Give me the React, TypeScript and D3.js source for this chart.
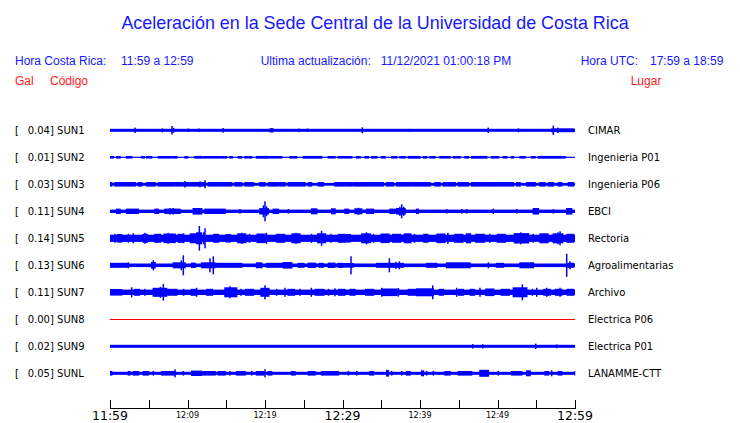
import React from "react";
import * as d3 from "d3";

const W = 740;
const H = 423;

const stations = ["SUN1", "SUN2", "SUN3", "SUN4", "SUN5", "SUN6", "SUN7", "SUN8", "SUN9", "SUNL"];
const peaks = ["0.04", "0.01", "0.03", "0.11", "0.14", "0.13", "0.11", "0.00", "0.02", "0.05"];
const places = ["CIMAR", "Ingenieria P01", "Ingenieria P06", "EBCI", "Rectoria", "Agroalimentarias", "Archivo", "Electrica P06", "Electrica P01", "LANAMME-CTT"];
// base half-amplitude of each trace's continuous noise band
const baseAmp = [1.5, 0.6, 1.4, 1.7, 3.6, 1.8, 2.7, 0, 1.5, 1.5];
const flatColor = ["blue", "blue", "blue", "blue", "blue", "blue", "blue", "red", "blue", "blue"];

// bursts: [minute, amp] spikes or [minuteStart, minuteEnd, amp] segments
const sun1 = [[1.0, 1.3], [3.23, 2.7], [6.75, 2], [8.0, 4.3], [8.2, 2.5], [10.1, 1.8], [11.5, 1.8], [14.6, 2.3], [20.7, 21.0, 2.2], [24.4, 1.8], [25.5, 1.8], [32.56, 3], [38.7, 1.4], [42.2, 1.3], [48.8, 2.7], [52.7, 2], [57.0, 59.8, 1.9], [57.2, 4.7], [57.8, 2.7]];
const sun2 = [[0, 0.43, 1.3], [0.86, 1.29, 1.3], [2.15, 2.8, 1.3], [4.09, 4.43, 1.3], [4.73, 5.38, 1.3], [6.24, 7.96, 1.3], [8.17, 8.6, 1.3], [9.68, 10.0, 1.3], [10.97, 11.83, 1.4], [12.04, 13.98, 1.3], [14.19, 15.05, 1.3], [15.48, 15.78, 1.3], [16.56, 16.99, 1.3], [17.42, 18.28, 1.3], [18.92, 20.43, 1.4], [20.65, 22.15, 1.3], [23.23, 24.09, 1.3], [24.95, 27.31, 1.4], [28.17, 29.03, 1.3], [29.46, 30.33, 1.3], [30.54, 31.19, 1.3], [31.83, 32.26, 1.3], [32.91, 33.34, 1.3], [33.77, 34.41, 1.3], [35.06, 35.49, 1.3], [36.35, 37.0, 1.3], [37.42, 38.07, 1.3], [38.5, 40.0, 1.4], [40.43, 40.86, 1.3], [41.29, 41.94, 1.3], [42.58, 43.87, 1.3], [44.3, 45.16, 1.3], [45.81, 46.24, 1.3], [46.67, 48.6, 1.4], [49.25, 50.11, 1.3], [50.76, 51.19, 1.3], [51.83, 52.05, 1.3], [52.91, 53.55, 1.3], [54.41, 54.84, 1.3], [55.27, 58.28, 1.4], [58.5, 58.7, 1.3]];
const sun3 = [[0, 0.22, 2.3], [0.65, 1.94, 2.3], [2.15, 3.23, 2.3], [3.66, 4.09, 2.3], [4.73, 5.81, 2.3], [6.24, 8.39, 2.3], [8.6, 9.25, 2.3], [9.46, 10.11, 2.3], [10.32, 11.4, 2.3], [11.61, 12.26, 2.3], [12.69, 15.7, 2.3], [16.13, 16.99, 2.3], [17.42, 18.49, 2.3], [19.35, 20.0, 2.3], [20.43, 21.72, 2.3], [21.94, 22.58, 2.3], [23.01, 25.16, 2.3], [25.59, 26.02, 2.3], [26.88, 27.53, 2.3], [29.03, 30.33, 2.3], [9.68, 3.3], [11.61, 3], [12.26, 4], [30.54, 31.19, 2.3], [31.4, 35.27, 2.3], [35.7, 36.56, 2.3], [36.99, 38.93, 2.3], [39.14, 41.29, 2.3], [41.94, 42.58, 2.3], [43.01, 44.52, 2.3], [44.95, 46.24, 2.3], [46.67, 48.39, 2.3], [48.61, 52.05, 2.3], [52.48, 52.91, 2.3], [53.77, 54.2, 2.3], [54.41, 54.84, 2.3], [55.49, 56.13, 2.3], [56.56, 57.21, 2.3], [57.85, 58.28, 2.3], [59.14, 59.79, 2.3]];
const sun4 = [[0.86, 1.29, 2.7], [2.15, 3.66, 2.7], [5.81, 6.24, 2.7], [7.1, 9.03, 2.7], [7.74, 3.3], [8.17, 3.3], [10.75, 11.83, 3.3], [12.26, 14.84, 2.7], [16.77, 2.3], [19.35, 20.43, 3.2], [20.0, 10], [19.8, 6], [20.2, 5], [21.08, 21.72, 2.7], [23.01, 2.3], [26.02, 26.67, 3], [28.6, 29.03, 3], [30.33, 30.76, 2.7], [31.62, 32.48, 3.0], [32.05, 3.5], [33.12, 33.98, 2.7], [36.13, 36.78, 2.7], [37.0, 38.07, 3.3], [37.64, 7], [37.4, 4.5], [37.9, 4.5], [39.57, 39.79, 2.7], [43.44, 2.3], [45.38, 2.3], [46.02, 2.3], [49.46, 2.7], [52.48, 2.3], [54.63, 55.27, 3.3], [57.21, 2.3], [58.93, 59.57, 3.3]];
const sun5 = [[0.65, 4.5], [1.0, 1.5, 4.3], [2.37, 4.5], [3.0, 5], [4.3, 4.8, 4.5], [4.52, 5.5], [5.8, 6.5, 4.5], [7.0, 8.4, 4.8], [7.5, 5.5], [8.8, 9.3, 4.5], [9.5, 5], [10.4, 11.2, 5], [11.2, 11.8, 6], [11.53, 12.3], [12.26, 10], [12.1, 6], [13.4, 14.0, 4.5], [15.0, 15.5, 4.3], [16.5, 17.5, 5], [17.0, 5.5], [18.0, 4.5], [19.0, 20.0, 4.8], [20.2, 5.5], [21.5, 22.5, 4.5], [23.5, 24.5, 5], [24.0, 5.5], [26.0, 4.5], [26.8, 27.8, 5], [27.3, 7.5], [28.5, 4.5], [29.5, 30.3, 4.5], [30.5, 31.0, 4.3], [32.5, 33.6, 5], [33.1, 6], [34.0, 4.5], [35.0, 36.0, 4.8], [36.5, 37.5, 4.5], [38.0, 38.8, 5], [39.3, 4.5], [40.5, 41.0, 4.5], [42.2, 43.2, 4.8], [43.6, 5.5], [44.5, 45.5, 4.5], [46.0, 46.5, 5], [47.2, 48.3, 4.5], [49.0, 4.5], [50.0, 51.0, 4.5], [52.2, 54.0, 5.2], [53.0, 6], [54.6, 4.5], [55.5, 56.5, 5], [57.2, 58.4, 5], [58.07, 7], [57.8, 6], [59.0, 59.8, 4.5]];
const sun6 = [[0, 2.37, 2.5], [2.37, 3], [5.38, 5.81, 3.3], [5.59, 5], [8.17, 9.68, 3], [9.46, 10], [9.2, 5], [10.54, 10.97, 2.7], [11.83, 13.55, 3], [12.9, 7], [13.33, 9], [13.76, 16.99, 2.5], [18.92, 19.57, 3], [20.22, 22.58, 2.5], [22.37, 23.44, 3.3], [24.3, 25.0, 2.5], [25.6, 26.5, 2.7], [27.0, 27.5, 2.5], [28.2, 29.0, 2.7], [29.4, 30.0, 2.5], [29.68, 31.4, 2.3], [31.1, 9], [34.41, 37.85, 2.5], [36.05, 7], [37.34, 4], [36.9, 3.5], [40.86, 42.15, 2.5], [43.44, 46.45, 3], [48.82, 3], [49.89, 50.76, 2.5], [52.91, 54.63, 3], [58.93, 11.5], [59.36, 4], [59.1, 59.8, 2.5]];
const sun7 = [[0, 1.5, 3.3], [2.8, 5], [3.2, 3.8, 3.5], [4.5, 3.5], [5.59, 7.31, 4.5], [6.88, 8.3], [6.5, 5.5], [7.5, 8, 3.5], [8.2, 8.6, 3.5], [9.5, 3.5], [10.5, 11, 3.5], [11.18, 4.5], [12.5, 13.2, 3.5], [14.84, 16.34, 5], [15.48, 6], [16.9, 3.5], [17.5, 18.5, 3.5], [20.0, 7], [19.5, 20.5, 4.5], [21.5, 3.5], [22.58, 4.5], [23.0, 23.8, 3.5], [24.5, 3.5], [25.98, 4.5], [26.5, 27.6, 3.5], [28.2, 3.5], [29.03, 4], [29.5, 30.3, 3.5], [31.0, 31.6, 3.5], [33.0, 34.0, 3.5], [35.06, 4.5], [35.2, 37.0, 3.8], [37.21, 4.3], [38.5, 39.5, 3.5], [39.57, 41.72, 4], [41.64, 7], [42.5, 43.0, 3.5], [44.73, 4.5], [45.0, 45.6, 3.5], [46.5, 47.0, 3.5], [47.74, 4.5], [48.5, 49.5, 3.8], [50.5, 51.5, 3.5], [52.05, 53.77, 5], [53.21, 8], [54.5, 3.5], [55.06, 4.5], [56.0, 56.8, 3.5], [56.35, 4.5], [57.5, 58.3, 3.5], [58.07, 4.5], [59.0, 59.8, 3.5]];
const sun8: number[][] = [];
const sun9 = [[46.8, 2.2], [48.09, 2.2], [54.93, 2.7], [57.64, 1.9]];
const sunl = [[0, 0.22, 2.3], [2.37, 2.58, 2.3], [3.01, 3.66, 2.3], [4.3, 4.95, 2.3], [5.59, 2.3], [6.67, 8.39, 2.3], [8.39, 4], [9.46, 2.3], [10.54, 11.83, 2.7], [12.04, 13.55, 2.3], [13.98, 14.84, 2.3], [15.48, 2.3], [16.34, 17.42, 2.3], [18.28, 2.3], [18.92, 19.78, 2.3], [20.0, 4], [20.43, 20.86, 2.3], [23.44, 23.87, 2.3], [25.59, 26.45, 2.3], [27.31, 29.46, 2.3], [30.76, 2.3], [31.83, 2.3], [33.55, 33.98, 2.3], [35.7, 35.92, 3.3], [36.35, 2.3], [37.64, 2.3], [38.28, 38.71, 2.3], [40.22, 40.43, 3], [40.86, 2.3], [41.72, 2.3], [43.23, 43.87, 2.3], [44.95, 46.67, 2.3], [47.74, 48.82, 3.5], [50.11, 2.3], [51.83, 53.12, 2.3], [53.77, 54.2, 3], [56.13, 56.56, 2.3], [56.99, 3], [57.85, 58.28, 2.3], [60, 2.3]];
const bursts = [sun1, sun2, sun3, sun4, sun5, sun6, sun7, sun8, sun9, sunl];

const tickMinutes = [0, 5, 10, 15, 20, 25, 30, 35, 40, 45, 50, 55, 60];
const tickLabels: Record<number, string> = { 0: "11:59", 10: "12:09", 20: "12:19", 30: "12:29", 40: "12:39", 50: "12:49", 60: "12:59" };
const bigTicks = [0, 30, 60];

const BLUE_TEXT = "#1717ff";
const RED_TEXT = "#ff1a1a";

export default function App() {
  const x = d3.scaleLinear().domain([0, 60]).range([110, 575]);
  const y = d3.scalePoint<string>().domain(stations).range([130.3, 373.3]);
  const amp = d3.scaleLinear().domain([0, 13.5]).range([0, 13.5]);

  const sans = "'Liberation Sans', Arial, sans-serif";
  const dv = "'DejaVu Sans', sans-serif";

  return (
    <svg width={W} height={H} style={{ position: "absolute", left: 0, top: 0, background: "#fff" }}>
      <rect width={W} height={H} fill="#fff" />
      <text x={375} y={29} textAnchor="middle" fontFamily={sans} fontSize={17.9} fill={BLUE_TEXT}>
        Aceleración en la Sede Central de la Universidad de Costa Rica
      </text>
      <g fontFamily={sans} fontSize={12} fill={BLUE_TEXT}>
        <text x={15} y={65}>Hora Costa Rica:</text>
        <text x={121} y={65}>11:59 a 12:59</text>
        <text x={260.7} y={65}>Ultima actualización:</text>
        <text x={380.7} y={65}>11/12/2021 01:00:18 PM</text>
        <text x={580.7} y={65}>Hora UTC:</text>
        <text x={650} y={65}>17:59 a 18:59</text>
      </g>
      <g fontFamily={sans} fontSize={12} fill={RED_TEXT}>
        <text x={15} y={85}>Gal</text>
        <text x={50} y={85}>Código</text>
        <text x={630.7} y={85}>Lugar</text>
      </g>

      {stations.map((s, i) => {
        const cy = y(s) as number;
        const b = baseAmp[i];
        return (
          <g key={s}>
            <text x={15} y={cy + 3.8} fontFamily={dv} fontSize={10} fill="#000">[</text>
            <text x={27.7} y={cy + 3.8} fontFamily={dv} fontSize={10} fill="#000">
              {`${peaks[i]}] ${s}`}
            </text>
            <text x={588} y={cy + 3.8} fontFamily={dv} fontSize={10} fill="#000">
              {places[i]}
            </text>
            {b > 0 ? (
              <rect x={x(0)} y={cy - amp(b)} width={x(60) - x(0)} height={2 * amp(b)} fill="#0000ff" />
            ) : (
              <line x1={x(0)} x2={x(60)} y1={Math.floor(cy) + 0.5} y2={Math.floor(cy) + 0.5} stroke={flatColor[i] === "red" ? "#ff0000" : "#0000ff"} strokeWidth={1} />
            )}
            {bursts[i].map((d, k) => {
              const t0 = d[0];
              const t1 = d.length === 3 ? d[1] : d[0];
              const a = d.length === 3 ? d[2] : d[1];
              const x0 = Math.max(x(0), x(t0) - 0.75);
              const x1 = Math.min(x(60), x(t1) + 0.75);
              return <rect key={k} x={x0} y={cy - amp(a)} width={Math.max(x1 - x0, 1)} height={2 * amp(a)} fill="#0000ff" />;
            })}
          </g>
        );
      })}

      <g>
        <line x1={x(0)} x2={x(60)} y1={408.5} y2={408.5} stroke="#000" strokeWidth={1} />
        {tickMinutes.map((m) => (
          <line key={m} x1={Math.round(x(m)) + 0.5} x2={Math.round(x(m)) + 0.5} y1={400} y2={409} stroke="#000" strokeWidth={1} />
        ))}
        {tickMinutes
          .filter((m) => tickLabels[m])
          .map((m) => {
            const big = bigTicks.includes(m);
            return (
              <text key={m} x={x(m)} y={big ? 419.5 : 417.5} textAnchor="middle" fontFamily={dv} fontSize={big ? 12.5 : 8} fill="#000">
                {tickLabels[m]}
              </text>
            );
          })}
      </g>
    </svg>
  );
}
